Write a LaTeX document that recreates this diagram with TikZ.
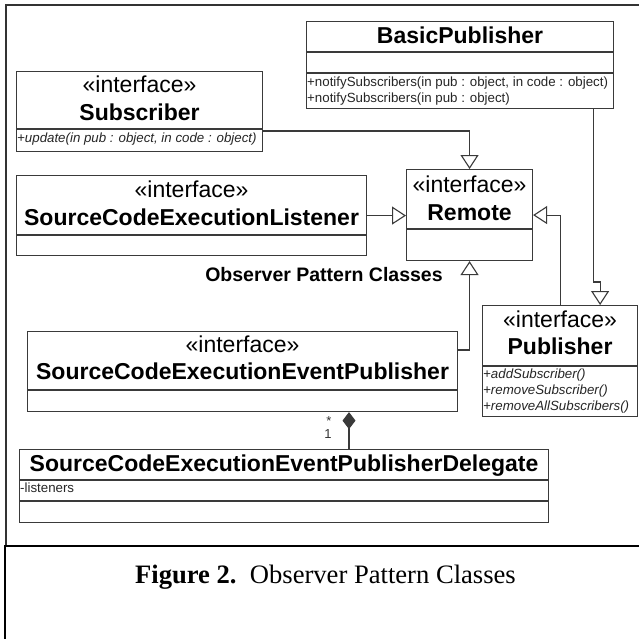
\documentclass[tikz,border=0pt]{standalone}
\usepackage{fontspec}
\setmainfont{Liberation Serif}
\setsansfont{Liberation Sans}
\usetikzlibrary{arrows.meta,calc}
\definecolor{linec}{HTML}{3A3A3A}
\definecolor{framec}{HTML}{333333}
\begin{document}
\begin{tikzpicture}[x=1pt,y=-1pt,
  classbox/.style={draw=linec, line width=1.1pt, inner sep=0pt, anchor=north west},
  divline/.style={draw=linec, line width=1.1pt},
  stereo/.style={font=\sffamily\fontsize{23}{23}\selectfont, anchor=base, inner sep=0pt},
  cname/.style={font=\sffamily\bfseries\fontsize{23}{23}\selectfont, anchor=base, inner sep=0pt},
  meth/.style={font=\sffamily\fontsize{13.3}{13.3}\selectfont, anchor=base west, inner sep=0pt, text=black!85},
  imeth/.style={meth, font=\sffamily\itshape\fontsize{13.3}{13.3}\selectfont},
  gen/.style={draw=linec, line width=1.1pt, -{Triangle[open, length=14pt, width=18pt, fill=white]}},
  comp/.style={draw=linec, line width=1.1pt, -{Diamond[length=17pt, width=13pt]}},
  mult/.style={font=\sffamily\fontsize{13}{13}\selectfont, anchor=base, inner sep=0pt, text=black!80}
]
\useasboundingbox (0,0) rectangle (639,638);
\clip (0,0) rectangle (639,638);
\fill[white] (0,0) rectangle (639,638);

% frames
\draw[draw=framec, line width=2pt] (6,5) rectangle (660,546);
\draw[draw=black, line width=2.6pt] (5,546) rectangle (660,660);

% BasicPublisher
\node[classbox, minimum width=307pt, minimum height=87pt] (bp) at (306,21) {};
\draw[divline] ($(bp.north west)+(0,31)$) -- ($(bp.north east)+(0,31)$);
\draw[divline] ($(bp.north west)+(0,52)$) -- ($(bp.north east)+(0,52)$);
\node[cname] (bpn) at ($(bp.north)+(0,22)$) {BasicPublisher};
\node[meth] (bpm1) at ($(bp.north west)+(1,65)$) {+notifySubscribers(in pub : object, in code : object)};
\node[meth] (bpm2) at ($(bp.north west)+(1,81)$) {+notifySubscribers(in pub : object)};

% Subscriber
\node[classbox, minimum width=246pt, minimum height=80pt] (sub) at (16,71) {};
\draw[divline] ($(sub.north west)+(0,58)$) -- ($(sub.north east)+(0,58)$);
\node[stereo] (subs) at ($(sub.north)+(0,21)$) {«interface»};
\node[cname] (subn) at ($(sub.north)+(0,49)$) {Subscriber};
\node[imeth] (subm) at ($(sub.north west)+(1,71)$) {+update(in pub : object, in code : object)};

% Remote
\node[classbox, minimum width=126pt, minimum height=91pt] (rem) at (406,169) {};
\draw[divline] ($(rem.north west)+(0,60)$) -- ($(rem.north east)+(0,60)$);
\node[stereo] (rems) at ($(rem.north)+(0,23)$) {«interface»};
\node[cname] (remn) at ($(rem.north)+(0,51)$) {Remote};

% SourceCodeExecutionListener
\node[classbox, minimum width=350pt, minimum height=80pt] (lis) at (16,175) {};
\draw[divline] ($(lis.north west)+(0,60)$) -- ($(lis.north east)+(0,60)$);
\node[stereo] (liss) at ($(lis.north)+(0,22)$) {«interface»};
\node[cname] (lisn) at ($(lis.north)+(0,50)$) {SourceCodeExecutionListener};

% label
\node[font=\sffamily\bfseries\fontsize{19.5}{19.5}\selectfont, anchor=base, inner sep=0pt] (lbl) at (324,281) {Observer Pattern Classes};

% Publisher
\node[classbox, minimum width=155pt, minimum height=111pt] (pub) at (482,305) {};
\draw[divline] ($(pub.north west)+(0,61)$) -- ($(pub.north east)+(0,61)$);
\node[stereo] (pubs) at ($(pub.north)+(0,22)$) {«interface»};
\node[cname] (pubn) at ($(pub.north)+(0,49)$) {Publisher};
\node[imeth] (pubm1) at ($(pub.north west)+(1,73)$) {+addSubscriber()};
\node[imeth] (pubm2) at ($(pub.north west)+(1,89)$) {+removeSubscriber()};
\node[imeth] (pubm3) at ($(pub.north west)+(1,105)$) {+removeAllSubscribers()};

% SourceCodeExecutionEventPublisher
\node[classbox, minimum width=430pt, minimum height=80pt] (sceep) at (27,331) {};
\draw[divline] ($(sceep.north west)+(0,59)$) -- ($(sceep.north east)+(0,59)$);
\node[stereo] (sceeps) at ($(sceep.north)+(0,21)$) {«interface»};
\node[cname] (sceepn) at ($(sceep.north)+(0,48)$) {SourceCodeExecutionEventPublisher};

% SourceCodeExecutionEventPublisherDelegate
\node[classbox, minimum width=529pt, minimum height=73pt] (del) at (19,449) {};
\draw[divline] ($(del.north west)+(0,31)$) -- ($(del.north east)+(0,31)$);
\draw[divline] ($(del.north west)+(0,52)$) -- ($(del.north east)+(0,52)$);
\node[cname] (deln) at ($(del.north)+(0,22)$) {SourceCodeExecutionEventPublisherDelegate};
\node[meth] (delm) at ($(del.north west)+(1,43)$) {-listeners};

% connectors
\draw[gen] ($(sub.north east)+(0,60)$) -| (rem.north);
\draw[gen] (lis.east) -- (lis.east -| rem.west);
\draw[gen] (pub.north) |- (rem.east);
\draw[gen] ($(bp.south east)+(-21,0)$) |- ($(pub.north east)+(-38,-23)$) -- ($(pub.north east)+(-38,0)$);
\draw[gen] ($(sceep.north east)+(0,19)$) -| (rem.south);
\draw[comp] ($(del.north west)+(330,0)$) -- ($(sceep.south west)+(322,0)$);
\node[mult] (m1) at (329,425) {*};
\node[mult] (m2) at (328,438) {1};

% caption
\node[font=\rmfamily\fontsize{26.6}{26.6}\selectfont, anchor=base, inner sep=0pt] (cap) at (325.5,583) {\textbf{Figure 2.}\ \ Observer Pattern Classes};
\end{tikzpicture}
\end{document}
